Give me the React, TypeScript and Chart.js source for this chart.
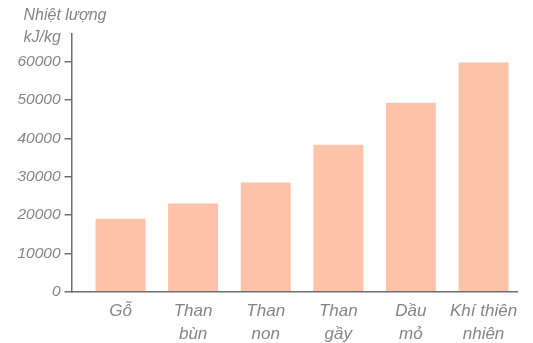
import React, { useEffect, useRef } from "react";
import { Chart, registerables } from "chart.js";

Chart.register(...registerables);

const categories: string[][] = [
  ["Gỗ"],
  ["Than", "bùn"],
  ["Than", "non"],
  ["Than", "gầy"],
  ["Dầu", "mỏ"],
  ["Khí thiên", "nhiên"],
];
const heatValues: number[] = [19000, 23000, 28500, 38300, 49300, 59800];
const yTickValues: number[] = [0, 10000, 20000, 30000, 40000, 50000, 60000];
const titleLines: string[] = ["Nhiệt lượng", "kJ/kg"];

const GREY_TEXT = "#858585";
const AXIS = "#6f6f6f";

const titlePlugin = {
  id: "unitTitle",
  afterDraw(chart: any) {
    const { ctx, chartArea } = chart;
    ctx.save();
    ctx.fillStyle = GREY_TEXT;
    ctx.font = "italic 16px 'Liberation Sans', Arial, sans-serif";
    ctx.textAlign = "left";
    ctx.textBaseline = "middle";
    const x = chartArea.left - 48;
    ctx.fillText(titleLines[0], x, chartArea.top - 18);
    ctx.fillText(titleLines[1], x, chartArea.top + 4);
    ctx.restore();
  },
};

export default function App() {
  const canvasRef = useRef<HTMLCanvasElement | null>(null);

  useEffect(() => {
    if (!canvasRef.current) return;
    const chart = new Chart(canvasRef.current, {
      type: "bar",
      data: {
        datasets: [
          {
            data: heatValues.map((v, i) => ({ x: i + 1, y: v })),
            backgroundColor: "#fcc3aa",
            borderWidth: 0,
            barPercentage: 0.86,
            categoryPercentage: 0.8,
          },
        ],
      },
      plugins: [titlePlugin],
      options: {
        animation: false,
        responsive: false,
        maintainAspectRatio: false,
        layout: { padding: { left: 0, top: 34, right: 16, bottom: 0 } },
        plugins: {
          legend: { display: false },
          tooltip: { enabled: false },
          title: { display: false },
        },
        scales: {
          x: {
            type: "linear",
            offset: false,
            min: 0.325,
            max: 6.461,
            grid: { display: false, drawTicks: false, offset: false },
            border: { display: true, color: AXIS, width: 1.5 },
            afterFit: (s: any) => {
              s.height = 51.3;
            },
            ticks: {
              stepSize: 1,
              includeBounds: false,
              autoSkip: false,
              maxRotation: 0,
              padding: 9,
              color: GREY_TEXT,
              font: { family: "'Liberation Sans', Arial, sans-serif", size: 17, style: "italic", lineHeight: 1.3 },
              callback: (v: any) => {
                const idx = Math.round(v) - 1;
                return Number.isInteger(v) && categories[idx] ? categories[idx] : "";
              },
            },
          },
          y: {
            min: 0,
            max: 67200,
            afterFit: (s: any) => {
              s.width = 71.5;
            },
            afterBuildTicks: (s: any) => {
              s.ticks = yTickValues.map((v) => ({ value: v }));
            },
            grid: {
              display: true,
              drawOnChartArea: false,
              drawTicks: true,
              tickLength: 7,
              color: AXIS,
              lineWidth: 1.5,
            },
            border: { display: true, color: AXIS, width: 1.5 },
            ticks: {
              padding: 4,
              color: GREY_TEXT,
              font: { family: "'Liberation Sans', Arial, sans-serif", size: 15.5, style: "italic" },
              callback: (v: any) => String(v),
            },
          },
        },
      },
    });
    return () => chart.destroy();
  }, []);

  return (
    <div style={{ position: "absolute", left: 0, top: 0, width: 533, height: 343, background: "#fff" }}>
      <canvas ref={canvasRef} width={533} height={343} style={{ width: 533, height: 343 }} />
    </div>
  );
}
